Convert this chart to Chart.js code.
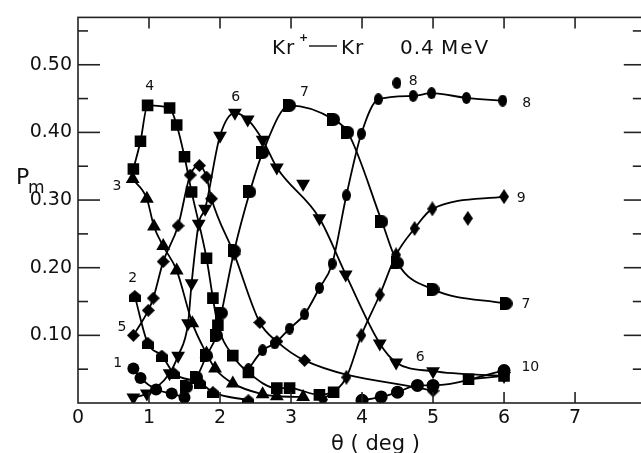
<!DOCTYPE html>
<html>
<head>
<meta charset="utf-8">
<script src="https://cdn.jsdelivr.net/npm/chart.js@4.4.1/dist/chart.umd.min.js"></script>
<style>
body { margin: 0; overflow: hidden; background: #fff; }
#wrap { width: 650px; height: 453px; }
</style>
</head>
<body>
<div id="wrap"><canvas id="pmChart"></canvas></div>
<script>
// axis ticks
const xTicks = [0, 1, 2, 3, 4, 5, 6, 7];
const yTicks = [0.1, 0.2, 0.3, 0.4, 0.5];
const yMinor = [0.05, 0.15, 0.25, 0.35, 0.45, 0.55];

// P_m against theta (deg), m = 1 .. 10
const m1Theta = [0.78, 0.88, 1.1, 1.32, 1.5];
const m1P     = [0.051, 0.037, 0.02, 0.014, 0.008];
const m2Theta = [0.8, 0.98, 1.18, 1.35, 1.72, 1.9, 2.4];
const m2P     = [0.158, 0.089, 0.07, 0.044, 0.03, 0.016, 0.004];
const m3Theta = [0.77, 0.97, 1.07, 1.2, 1.39, 1.61, 1.81, 1.93, 2.18, 2.6, 2.8, 3.17];
const m3P     = [0.331, 0.302, 0.261, 0.232, 0.196, 0.118, 0.073, 0.051, 0.029, 0.013, 0.01, 0.009];
const m4Theta = [0.78, 0.88, 0.98, 1.29, 1.39, 1.5, 1.6, 1.81, 1.9, 1.97, 2.18, 2.4, 2.8, 2.98, 3.4, 3.6];
const m4P     = [0.346, 0.387, 0.44, 0.436, 0.411, 0.364, 0.312, 0.214, 0.155, 0.115, 0.07, 0.045, 0.022, 0.022, 0.012, 0.016];
const m4bTheta = [5.5, 6.0];
const m4bP     = [0.035, 0.04];
const m5Theta = [0.78, 0.99, 1.06, 1.2, 1.41, 1.58, 1.71, 1.81, 1.88, 2.2, 2.56, 2.8, 3.19, 5.0];
const m5P     = [0.10, 0.137, 0.155, 0.209, 0.262, 0.337, 0.351, 0.334, 0.302, 0.22, 0.119, 0.091, 0.063, 0.018];
const m6Theta = [0.78, 0.97, 1.29, 1.41, 1.55, 1.6, 1.7, 1.79, 2.0, 2.21, 2.39, 2.6, 2.8, 3.4, 3.77, 4.25, 4.48, 5.0, 6.0];
const m6P     = [0.008, 0.014, 0.044, 0.07, 0.118, 0.177, 0.265, 0.287, 0.395, 0.429, 0.419, 0.389, 0.348, 0.273, 0.19, 0.088, 0.06, 0.047, 0.04];
const m7Theta = [1.53, 1.67, 1.81, 1.95, 2.02, 2.2, 2.42, 2.6, 2.98, 3.6, 3.8, 4.28, 4.5, 5.0, 6.03];
const m7P     = [0.024, 0.038, 0.07, 0.10, 0.133, 0.225, 0.312, 0.37, 0.44, 0.419, 0.40, 0.268, 0.207, 0.168, 0.147];
const m8Theta = [2.4, 2.6, 2.77, 2.98, 3.19, 3.4, 3.58, 3.78, 3.99, 4.23, 4.72, 4.98, 5.47, 5.98];
const m8P     = [0.05, 0.078, 0.088, 0.11, 0.131, 0.17, 0.206, 0.307, 0.398, 0.449, 0.454, 0.458, 0.451, 0.447];
const m9Theta = [3.45, 3.78, 3.99, 4.25, 4.48, 4.74, 4.99, 6.0];
const m9P     = [0.005, 0.038, 0.10, 0.16, 0.219, 0.258, 0.287, 0.305];
const m10Theta = [4.0, 4.27, 4.5, 4.78, 5.0, 6.0];
const m10P     = [0.004, 0.009, 0.016, 0.026, 0.026, 0.048];

// points lying off the drawn curves
const off6Theta = [3.17];
const off6P     = [0.324];
const off8Theta = [4.49];
const off8P     = [0.473];
const off9Theta = [5.49];
const off9P     = [0.273];

// curve labels
const curveNames = ['4', '6', '7', '8', '8', '3', '2', '5', '1', '9', '7', '6', '10'];
const curveNameTheta = [1.01, 2.22, 3.19, 4.72, 6.32, 0.55, 0.77, 0.62, 0.56, 6.24, 6.31, 4.82, 6.37];
const curveNameP     = [0.47, 0.454, 0.461, 0.477, 0.445, 0.322, 0.186, 0.114, 0.06, 0.305, 0.148, 0.07, 0.054];

function pts(xs, ys)
{
    return xs.map((x, i) => ({x: x, y: ys[i]}));
}

function makeMarker(kind, w, h)
{
    const c = document.createElement('canvas');
    c.width = w;
    c.height = h;
    const g = c.getContext('2d');
    g.fillStyle = '#000';
    g.beginPath();
    if (kind === 'house') {
        g.moveTo(0, h);
        g.lineTo(0, h * 0.42);
        g.lineTo(w / 2, 0);
        g.lineTo(w, h * 0.42);
        g.lineTo(w, h);
    } else if (kind === 'half') {
        g.moveTo(w - h / 2, 0);
        g.lineTo(0, 0);
        g.lineTo(0, h);
        g.lineTo(w - h / 2, h);
        g.arc(w - h / 2, h / 2, h / 2, Math.PI / 2, -Math.PI / 2, true);
    } else if (kind === 'diamond') {
        g.moveTo(w / 2, 0);
        g.lineTo(w, h / 2);
        g.lineTo(w / 2, h);
        g.lineTo(0, h / 2);
    } else {
        g.ellipse(w / 2, h / 2, w / 2, h / 2, 0, 0, 2 * Math.PI);
    }
    g.closePath();
    g.fill();
    return c;
}

const houseMark = makeMarker('house', 12, 12);
const halfMark = makeMarker('half', 13, 13);
const diamondMark = makeMarker('diamond', 13, 13);
const tallDiamond = makeMarker('diamond', 10, 15);
const ovalMark = makeMarker('oval', 9, 12);

function series(xs, ys, style, radius, rotation, withLine)
{
    return {
        data: pts(xs, ys),
        showLine: withLine,
        borderColor: '#000',
        borderWidth: 1.8,
        backgroundColor: '#000',
        pointBackgroundColor: '#000',
        pointBorderColor: '#000',
        pointBorderWidth: 0,
        pointStyle: style,
        pointRadius: radius,
        pointRotation: rotation,
        cubicInterpolationMode: 'monotone',
        fill: false
    };
}

function line(ctx, x1, y1, x2, y2)
{
    ctx.beginPath();
    ctx.moveTo(x1, y1);
    ctx.lineTo(x2, y2);
    ctx.stroke();
}

const framePlugin = {
    id: 'frame',
    afterDraw(chart) {
        const ctx = chart.ctx;
        const a = chart.chartArea;
        const xs = chart.scales.x;
        const ys = chart.scales.y;
        ctx.save();
        ctx.strokeStyle = '#222';
        ctx.lineWidth = 1.6;
        ctx.strokeRect(a.left, a.top, a.right - a.left, a.bottom - a.top);
        xTicks.forEach(v => {
            if (v === 0) return;
            const px = xs.getPixelForValue(v);
            line(ctx, px, a.top, px, a.top + 11);
            line(ctx, px, a.bottom, px, a.bottom - 11);
        });
        yTicks.forEach(v => {
            const py = ys.getPixelForValue(v);
            line(ctx, a.left, py, a.left + 22, py);
            line(ctx, a.right, py, a.right - 18, py);
        });
        yMinor.forEach(v => {
            const py = ys.getPixelForValue(v);
            line(ctx, a.left, py, a.left + 10, py);
            line(ctx, a.right, py, a.right - 9, py);
        });

        ctx.fillStyle = '#111';
        ctx.textBaseline = 'alphabetic';
        ctx.textAlign = 'center';
        ctx.font = '14px "DejaVu Sans"';
        curveNames.forEach((t, i) => {
            ctx.fillText(t, xs.getPixelForValue(curveNameTheta[i]), ys.getPixelForValue(curveNameP[i]) + 5);
        });

        // title  Kr+ - Kr  0.4 MeV
        ctx.textAlign = 'left';
        ctx.font = '20px "DejaVu Sans"';
        ctx.letterSpacing = '1px';
        ctx.fillText('Kr', 272, 54);
        ctx.fillText('Kr', 341, 54);
        ctx.fillText('0.4', 400, 54);
        ctx.letterSpacing = '2px';
        ctx.fillText('MeV', 441, 54);
        ctx.letterSpacing = '0px';
        ctx.font = 'bold 11px "DejaVu Sans"';
        ctx.fillText('+', 299, 41);
        ctx.lineWidth = 1.5;
        line(ctx, 309, 46, 337, 46);

        // axis titles
        ctx.font = '22px "DejaVu Sans"';
        ctx.fillText('P', 16, 184);
        ctx.font = '17px "DejaVu Sans"';
        ctx.fillText('m', 28, 193);
        ctx.font = '21px "DejaVu Sans"';
        ctx.fillText('\u03b8 ( deg )', 331, 450);
        ctx.restore();
    }
};

new Chart('pmChart', {
    type: 'line',
    data: {
        datasets: [
            series(m1Theta, m1P, 'circle', 6, 0, true),
            series(m2Theta, m2P, houseMark, 6, 0, true),
            series(m3Theta, m3P, 'triangle', 8, 0, true),
            series(m4Theta, m4P, 'rect', 8.2, 0, true),
            series(m4bTheta, m4bP, 'rect', 8.2, 0, true),
            series(m5Theta, m5P, diamondMark, 6, 0, true),
            series(m6Theta, m6P, 'triangle', 8, 180, true),
            series(m7Theta, m7P, halfMark, 6, 0, true),
            series(m8Theta, m8P, ovalMark, 6, 0, true),
            series(m9Theta, m9P, tallDiamond, 6, 0, true),
            series(m10Theta, m10P, 'circle', 6.5, 0, true),
            series(off6Theta, off6P, 'triangle', 8, 180, false),
            series(off8Theta, off8P, ovalMark, 6, 0, false),
            series(off9Theta, off9P, tallDiamond, 6, 0, false)
        ]
    },
    options: {
        responsive: true,
        maintainAspectRatio: false,
        animation: false,
        layout: {padding: {top: 14, right: 7, left: 0, bottom: 0}},
        plugins: {legend: {display: false}, tooltip: {enabled: false}},
        scales: {
            x: {
                type: 'linear',
                min: 0,
                max: 7.94,
                grid: {display: false, drawTicks: false},
                border: {display: false},
                afterBuildTicks: s => { s.ticks = xTicks.map(v => ({value: v})); },
                afterFit: s => { s.height = 50; },
                ticks: {
                    padding: 4,
                    color: '#111',
                    font: {family: 'DejaVu Sans', size: 19},
                    callback: v => String(v)
                }
            },
            y: {
                type: 'linear',
                min: 0,
                max: 0.57,
                grid: {display: false, drawTicks: false},
                border: {display: false},
                afterBuildTicks: s => { s.ticks = yTicks.map(v => ({value: v})); },
                afterFit: s => { s.width = 78; },
                ticks: {
                    padding: 6,
                    color: '#111',
                    font: {family: 'DejaVu Sans', size: 19},
                    callback: v => v.toFixed(2)
                }
            }
        }
    },
    plugins: [framePlugin]
});
</script>
</body>
</html>
